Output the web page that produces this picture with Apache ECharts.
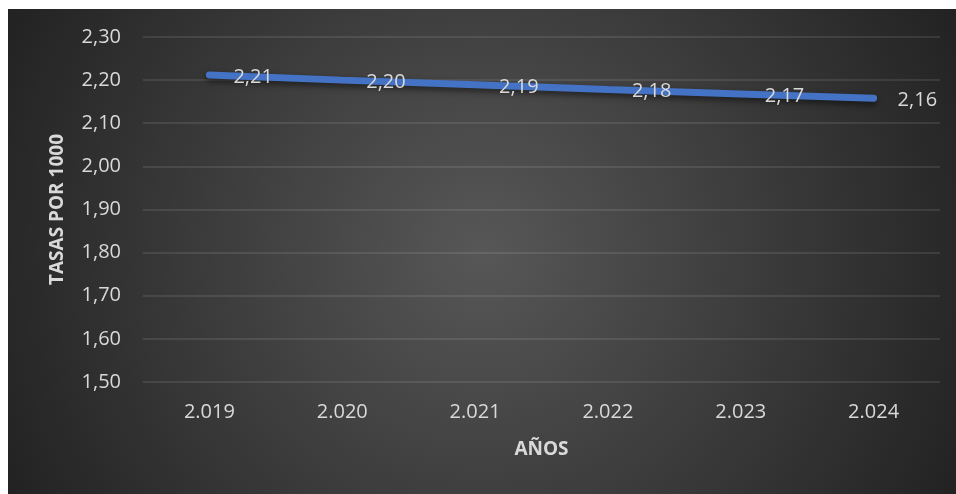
<!DOCTYPE html>
<html>
<head>
<meta charset="utf-8">
<script src="https://cdn.jsdelivr.net/npm/echarts@6/dist/echarts.min.js"></script>
<style>
  html, body { margin: 0; padding: 0; background: #ffffff; }
  #chart { position: absolute; left: 8px; top: 9px; width: 948px; height: 485px; }
</style>
</head>
<body>
<div id="chart"></div>
<script>
  // datos
  var years = ['2.019', '2.020', '2.021', '2.022', '2.023', '2.024'];
  var rates = [2.212, 2.200, 2.189, 2.178, 2.168, 2.158];
  var yTicks = { min: 1.5, max: 2.3, step: 0.1 };

  var textColor = '#d9d9d9';
  var fontFamily = '"Open Sans", "Noto Sans", sans-serif';

  function fmt(v) {
    return v.toFixed(2).replace('.', ',');
  }

  var chart = echarts.init(document.getElementById('chart'));
  chart.setOption({
    backgroundColor: {
      type: 'radial', x: 0.5, y: 0.5, r: 1.1,
      colorStops: [
        { offset: 0, color: '#575757' },
        { offset: 1, color: '#222222' }
      ]
    },
    animation: false,
    grid: { left: 135, right: 16, top: 28, bottom: 112 },
    xAxis: {
      type: 'category',
      data: years,
      boundaryGap: true,
      axisLine: { show: false },
      axisTick: { show: false },
      axisLabel: { color: textColor, fontSize: 20, fontFamily: fontFamily, margin: 20 },
      name: 'AÑOS',
      nameLocation: 'middle',
      nameGap: 58,
      nameTextStyle: { color: textColor, fontSize: 19, fontWeight: 'bold', fontFamily: fontFamily }
    },
    yAxis: {
      type: 'value',
      min: yTicks.min,
      max: yTicks.max,
      interval: yTicks.step,
      axisLine: { show: false },
      axisTick: { show: false },
      axisLabel: {
        color: textColor, fontSize: 20, fontFamily: fontFamily, margin: 22,
        formatter: function (v) { return fmt(v); }
      },
      splitLine: { lineStyle: { color: 'rgba(255,255,255,0.13)', width: 1.5 } },
      name: 'TASAS POR 1000',
      nameLocation: 'middle',
      nameRotate: 90,
      nameGap: 76,
      nameTextStyle: { color: textColor, fontSize: 19, fontWeight: 'bold', fontFamily: fontFamily }
    },
    series: [{
      type: 'line',
      data: rates,
      symbol: 'circle',
      symbolSize: 6,
      itemStyle: { color: '#4472c4' },
      lineStyle: {
        color: '#4472c4', width: 7, cap: 'round',
        shadowColor: 'rgba(0,0,0,0.55)', shadowBlur: 6, shadowOffsetY: 3
      },
      label: {
        show: true,
        position: 'right',
        distance: 21,
        offset: [0, 2],
        color: textColor,
        fontSize: 20,
        fontFamily: fontFamily,
        formatter: function (p) { return fmt(p.value); }
      }
    }]
  });
</script>
</body>
</html>
